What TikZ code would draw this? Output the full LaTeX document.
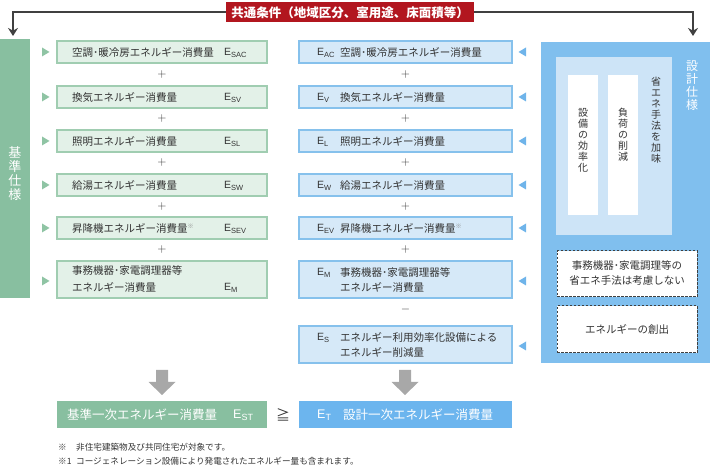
\documentclass[tikz,border=0pt]{standalone}
\usepackage{fontspec}
\setmainfont{Noto Sans CJK JP}
\newfontfamily\latinfont{Liberation Sans}
\usetikzlibrary{arrows.meta}
\definecolor{bannerred}{HTML}{B2161F}
\definecolor{darkline}{HTML}{404040}
\definecolor{txtgray}{HTML}{333333}
\definecolor{greenbar}{HTML}{88BFA0}
\definecolor{lfill}{HTML}{E3F1E8}
\definecolor{ldraw}{HTML}{A0CDB1}
\definecolor{mfill}{HTML}{D6E9F8}
\definecolor{mdraw}{HTML}{86C1EC}
\definecolor{trigreen}{HTML}{8FC4A4}
\definecolor{triblue}{HTML}{6FB4EA}
\definecolor{panelblue}{HTML}{80BFEE}
\definecolor{innerblue}{HTML}{CDE4F7}
\definecolor{bottomblue}{HTML}{6CB5EE}
\definecolor{arrowgray}{HTML}{A8A8A8}
\newcommand{\Esb}[1]{{\latinfont E\raisebox{-0.35ex}{\fontsize{7.5}{7.5}\selectfont #1}}}
\newcommand{\Ebig}[1]{{\latinfont E\raisebox{-0.35ex}{\fontsize{9}{9}\selectfont #1}}}
\newcommand{\kome}{\raisebox{0.7ex}{\fontsize{6}{6}\selectfont\color{gray}※}}
\begin{document}
\begin{tikzpicture}[x=1pt,y=-1pt,
  lbox/.style={draw=ldraw,fill=lfill,line width=1.3pt,inner sep=0pt,minimum width=210pt},
  mbox/.style={draw=mdraw,fill=mfill,line width=1.3pt,inner sep=0pt,minimum width=213pt},
  txt/.style={text=txtgray,inner sep=0pt,font=\fontsize{10.5}{15}\selectfont},
  etxt/.style={text=txtgray,inner sep=0pt,font=\fontsize{10.5}{15}\selectfont,anchor=west},
  optxt/.style={text=txtgray,inner sep=0pt,font=\fontsize{12}{12}\selectfont},
  vtxt/.style={inner sep=0pt,align=center},
  dbox/.style={draw=darkline,fill=white,line width=1pt,dash pattern=on 2.5pt off 1.5pt,minimum width=140pt,inner sep=0pt},
  topline/.style={draw=darkline,line width=2pt},
  grayarrow/.style={fill=arrowgray},
  bannerbox/.style={fill=bannerred,text=white,minimum width=248pt,minimum height=20pt,inner sep=0pt,
    font=\fontsize{12.5}{13}\selectfont\bfseries},
  whitetxt/.style={text=white,inner sep=0pt,anchor=west,font=\fontsize{12.5}{13}\selectfont},
  fntxt/.style={text=txtgray,inner sep=0pt,anchor=west,font=\fontsize{8.6}{9}\selectfont}
]
\useasboundingbox (0,0) rectangle (710,470);

% banner and top lines
\coordinate (la) at (13,36);
\coordinate (ra) at (693,36);
\node[bannerbox] (banner) at (350,12.5) {};
\draw[topline,-{Stealth[length=8pt,width=10pt]}] (banner.center) -| (la);
\draw[topline,-{Stealth[length=8pt,width=10pt]}] (banner.center) -| (ra);
\node[bannerbox] (bannertxt) at (350,12.5) {共通条件（地域区分、室用途、床面積等）};

% left green bar
\fill[greenbar] (0,39) rectangle (30,298);
\node[vtxt,text=white,font=\fontsize{13}{14}\selectfont] (kijun) at (15,174) {基\\準\\仕\\様};

% right panel
\fill[panelblue] (541,42) rectangle (710,363);
\fill[innerblue] (556,57) rectangle (672,235);
\fill[white] (568,75) rectangle (598,215);
\fill[white] (608,75) rectangle (638,215);
\node[vtxt,text=white,font=\fontsize{12}{13}\selectfont] (sekkei) at (692,86) {設\\計\\仕\\様};
\node[vtxt,text=txtgray,font=\fontsize{10}{11}\selectfont] (koritsu) at (583,140) {設\\備\\の\\効\\率\\化};
\node[vtxt,text=txtgray,font=\fontsize{10}{11}\selectfont] (fuka) at (623,135) {負\\荷\\の\\削\\減};
\node[vtxt,text=txtgray,font=\fontsize{10}{11}\selectfont] (shoene) at (656,120) {省\\エ\\ネ\\手\\法\\を\\加\\味};
\node[dbox,minimum height=46pt] (d1) at (627,274) {};
\node[txt,align=center] (d1t) at (627,273) {事務機器･家電調理等の\\省エネ手法は考慮しない};
\node[dbox,minimum height=47pt] (d2) at (627,329.5) {};
\node[txt] (d2t) at (627,329.5) {エネルギーの創出};

% left boxes
\node[lbox,minimum height=22pt] (L1) at (162,52) {};
\node[lbox,minimum height=22pt] (L2) at (162,97) {};
\node[lbox,minimum height=22pt] (L3) at (162,141) {};
\node[lbox,minimum height=22pt] (L4) at (162,185) {};
\node[lbox,minimum height=22pt] (L5) at (162,228) {};
\node[lbox,minimum height=37pt] (L6) at (162,279.5) {};
\node[txt,anchor=west] (L1t) at (72,52) {空調･暖冷房エネルギー消費量};
\node[txt,anchor=west] (L2t) at (72,97) {換気エネルギー消費量};
\node[txt,anchor=west] (L3t) at (72,141) {照明エネルギー消費量};
\node[txt,anchor=west] (L4t) at (72,185) {給湯エネルギー消費量};
\node[txt,anchor=west] (L5t) at (72,228) {昇降機エネルギー消費量\kome};
\node[txt,anchor=west,align=left] (L6t) at (72,279) {事務機器･家電調理器等\\[1.5pt]エネルギー消費量};
\node[etxt] (L1e) at (224,53) {\Esb{SAC}};
\node[etxt] (L2e) at (224,98) {\Esb{SV}};
\node[etxt] (L3e) at (224,142) {\Esb{SL}};
\node[etxt] (L4e) at (224,186) {\Esb{SW}};
\node[etxt] (L5e) at (224,229) {\Esb{SEV}};
\node[etxt] (L6e) at (224,288) {\Esb{M}};
\foreach \y in {52,97,141,185,228,281}{
  \fill[trigreen] (42,\y-4.5) -- (49.5,\y) -- (42,\y+4.5) -- cycle;}
\node[optxt] (p1) at (162,74.5) {$+$};
\node[optxt] (p2) at (162,119) {$+$};
\node[optxt] (p3) at (162,163) {$+$};
\node[optxt] (p4) at (162,207) {$+$};
\node[optxt] (p5) at (162,250) {$+$};

% middle boxes
\node[mbox,minimum height=22pt] (M1) at (405.5,52) {};
\node[mbox,minimum height=22pt] (M2) at (405.5,97) {};
\node[mbox,minimum height=22pt] (M3) at (405.5,141) {};
\node[mbox,minimum height=22pt] (M4) at (405.5,185) {};
\node[mbox,minimum height=22pt] (M5) at (405.5,228) {};
\node[mbox,minimum height=37pt] (M6) at (405.5,279.5) {};
\node[mbox,minimum height=37pt] (M7) at (405.5,344.5) {};
\node[etxt] (M1e) at (317,53) {\Esb{AC}};
\node[etxt] (M2e) at (317,98) {\Esb{V}};
\node[etxt] (M3e) at (317,142) {\Esb{L}};
\node[etxt] (M4e) at (317,186) {\Esb{W}};
\node[etxt] (M5e) at (317,229) {\Esb{EV}};
\node[etxt] (M6e) at (317,273) {\Esb{M}};
\node[etxt] (M7e) at (317,337.5) {\Esb{S}};
\node[txt,anchor=west] (M1t) at (340,52) {空調･暖冷房エネルギー消費量};
\node[txt,anchor=west] (M2t) at (340,97) {換気エネルギー消費量};
\node[txt,anchor=west] (M3t) at (340,141) {照明エネルギー消費量};
\node[txt,anchor=west] (M4t) at (340,185) {給湯エネルギー消費量};
\node[txt,anchor=west] (M5t) at (340,228) {昇降機エネルギー消費量\kome};
\node[txt,anchor=west,align=left] (M6t) at (340,280) {事務機器･家電調理器等\\エネルギー消費量};
\node[txt,anchor=west,align=left] (M7t) at (340,344.5) {エネルギー利用効率化設備による\\エネルギー削減量};
\foreach \y in {52,97,141,185,228,281,346}{
  \fill[triblue] (526,\y-4.5) -- (518.5,\y) -- (526,\y+4.5) -- cycle;}
\node[optxt] (q1) at (405.5,74.5) {$+$};
\node[optxt] (q2) at (405.5,119) {$+$};
\node[optxt] (q3) at (405.5,163) {$+$};
\node[optxt] (q4) at (405.5,207) {$+$};
\node[optxt] (q5) at (405.5,250) {$+$};
\node[optxt] (q6) at (405.5,310) {$-$};

% gray block arrows
\foreach \cx in {162,405}{
  \fill[grayarrow] (\cx-6,370) -- (\cx+6,370) -- (\cx+6,382) -- (\cx+13.5,382)
    -- (\cx,395) -- (\cx-13.5,382) -- (\cx-6,382) -- cycle;}

% bottom result boxes
\node[fill=greenbar,minimum width=210pt,minimum height=27pt,inner sep=0pt] (EST) at (162,414.5) {};
\node[fill=bottomblue,minimum width=213pt,minimum height=27pt,inner sep=0pt] (ET) at (405.5,414.5) {};
\node[whitetxt] (ESTt) at (67,414.5) {基準一次エネルギー消費量};
\node[whitetxt] (ESTe) at (233,415.5) {\Ebig{ST}};
\node[whitetxt] (ETe) at (317,415.5) {\Ebig{T}};
\node[whitetxt] (ETt) at (343,414.5) {設計一次エネルギー消費量};
\node[text=txtgray,inner sep=0pt,font=\fontsize{14}{14}\selectfont] (geq) at (283,415) {≧};

% footnotes
\node[fntxt] (fn1) at (58,447) {\makebox[18pt][l]{※}非住宅建築物及び共同住宅が対象です。};
\node[fntxt] (fn2) at (58,461) {\makebox[18pt][l]{※1}コージェネレーション設備により発電されたエネルギー量も含まれます。};
\end{tikzpicture}
\end{document}
